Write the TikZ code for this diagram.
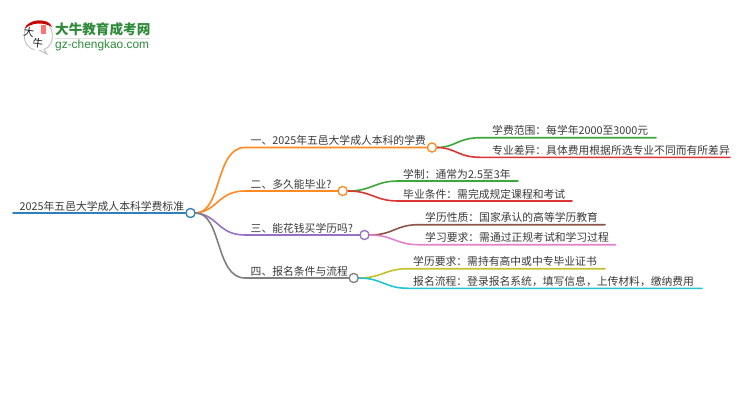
\documentclass[tikz,border=0pt]{standalone}
\usepackage{fontspec}
\setmainfont{Noto Sans CJK SC}
\newcommand{\fwcolon}{\char"FF1A\relax}
\newcommand{\fwcomma}{\char"FF0C\relax}
\definecolor{cblue}{HTML}{2F7FB8}
\definecolor{corange}{HTML}{FF8A24}
\definecolor{cgreen}{HTML}{3CA83C}
\definecolor{cred}{HTML}{DC3535}
\definecolor{cpurple}{HTML}{9A70C4}
\definecolor{cbrown}{HTML}{8C564B}
\definecolor{cpink}{HTML}{E680C8}
\definecolor{cgray}{HTML}{808080}
\definecolor{colive}{HTML}{C2C22E}
\definecolor{ccyan}{HTML}{22C4D4}
\definecolor{ctext}{HTML}{3A3A3A}
\definecolor{logogreen}{HTML}{2E8B3A}
\tikzset{
  x=1pt,y=-1pt,
  lbl/.style={anchor=base west,inner sep=0pt,font=\fontsize{10.8}{12}\selectfont,text=ctext},
  wire/.style={line width=1.6pt,line cap=round},
  knot/.style={circle,draw,fill=white,line width=1.2pt,minimum size=9pt,inner sep=0pt},
  pt/.style={inner sep=0pt,minimum size=0pt},
}
\begin{document}
\begin{tikzpicture}
\useasboundingbox (0,0) rectangle (750,410);
\fill[white] (0,0) rectangle (750,410);
% logo
\draw[line width=.9pt,black!25] (34.5,49.5) .. controls (20,47) and (20,21) .. (38.5,20.5) .. controls (56,21) and (56,46) .. (44,49.5) -- (47,54) -- (39,50);
\fill[red!80!black] (24.5,29) .. controls (27,19) and (49,17) .. (52,27) .. controls (44,22) and (32,22) .. (24.5,29) -- cycle;
\fill[red!55!white] (41,25) rectangle (46,34);
\node[pt,text=black!90,rotate=-8,font=\fontsize{10.5}{11}\selectfont] (logoa) at (29,32) {大};
\node[pt,text=black!90,rotate=-8,font=\fontsize{10.5}{11}\selectfont] (logob) at (38,43.5) {牛};
\node[pt,anchor=west,text=logogreen,font=\fontsize{13.6}{14}\selectfont\bfseries] (title) at (55,29) {大牛教育成考网};
\draw[black!12,line width=.8pt] (55,38.5) -- (150,38.5);
\node[pt,anchor=west,text=logogreen,font=\fontspec{Liberation Sans}\fontsize{11.9}{13}\selectfont] (url) at (55,45) {gz-chengkao.com};
% knots
\coordinate (r0) at (13,213);
\node[knot,draw=cblue] (kr) at (190.5,213) {};
\node[knot,draw=corange] (k1) at (432,147.5) {};
\node[knot,draw=corange] (k2) at (342.7,191) {};
\node[knot,draw=cpurple] (k3) at (364.5,235) {};
\node[knot,draw=cgray] (k4) at (353.7,278) {};
% ends
\foreach \n/\xa/\xb/\y in {a1/245/427.5/147.5,a2/245/338/191,a3/245/360/235,a4/245/349/278,
  l1/480/656/137.7,l2/480/730/157.3,l3/398/518/181,l4/398/572/201,
  l5/418/605/224.7,l6/418/615.7/244.7,l7/408/605/268.7,l8/408/702/288.3}{
  \coordinate (\n s) at (\xa,\y);
  \coordinate (\n e) at (\xb,\y);
}
\draw[wire,cblue] (r0) -- (kr.west);
\draw[wire,corange] (kr.east) .. controls (222,213) and (215,147.5) .. (a1s) -- (a1e);
\draw[wire,corange] (kr.east) .. controls (218,211) and (218,191) .. (a2s) -- (a2e);
\draw[wire,cpurple] (kr.east) .. controls (218,215) and (218,235) .. (a3s) -- (a3e);
\draw[wire,cgray] (kr.east) .. controls (222,213) and (215,278) .. (a4s) -- (a4e);
\draw[wire,cgreen] (k1.east) .. controls (455,147.5) and (458,137.7) .. (l1s) -- (l1e);
\draw[wire,cred] (k1.east) .. controls (455,147.5) and (458,157.3) .. (l2s) -- (l2e);
\draw[wire,cgreen] (k2.east) .. controls (372,191) and (375,181) .. (l3s) -- (l3e);
\draw[wire,cred] (k2.east) .. controls (372,191) and (375,201) .. (l4s) -- (l4e);
\draw[wire,cbrown] (k3.east) .. controls (393,235) and (396,224.7) .. (l5s) -- (l5e);
\draw[wire,cpink] (k3.east) .. controls (393,235) and (396,244.7) .. (l6s) -- (l6e);
\draw[wire,colive] (k4.east) .. controls (382,278) and (385,268.7) .. (l7s) -- (l7e);
\draw[wire,ccyan] (k4.east) .. controls (382,278) and (385,288.3) .. (l8s) -- (l8e);
% redraw knots over wires
\node[knot,draw=cblue] at (kr) {};
\node[knot,draw=corange] at (k1) {};
\node[knot,draw=corange] at (k2) {};
\node[knot,draw=cpurple] at (k3) {};
\node[knot,draw=cgray] at (k4) {};
% labels
\node[lbl] (t0) at (19.5,210) {2025年五邑大学成人本科学费标准};
\node[lbl] (t1) at (250.5,144.5) {一、2025年五邑大学成人本科的学费};
\node[lbl] (t2) at (250.5,188) {二、多久能毕业?};
\node[lbl] (t3) at (250.5,232) {三、能花钱买学历吗?};
\node[lbl] (t4) at (250.5,275) {四、报名条件与流程};
\node[lbl] (u1) at (492,134.7) {学费范围\fwcolon 每学年2000至3000元};
\node[lbl] (u2) at (492,154.3) {专业差异\fwcolon 具体费用根据所选专业不同而有所差异};
\node[lbl] (u3) at (403,178) {学制\fwcolon 通常为2.5至3年};
\node[lbl] (u4) at (403,198) {毕业条件\fwcolon 需完成规定课程和考试};
\node[lbl] (u5) at (425,221.7) {学历性质\fwcolon 国家承认的高等学历教育};
\node[lbl] (u6) at (425,241.7) {学习要求\fwcolon 需通过正规考试和学习过程};
\node[lbl] (u7) at (413,265.7) {学历要求\fwcolon 需持有高中或中专毕业证书};
\node[lbl] (u8) at (413,285.3) {报名流程\fwcolon 登录报名系统\fwcomma 填写信息\fwcomma 上传材料\fwcomma 缴纳费用};
\end{tikzpicture}
\end{document}
